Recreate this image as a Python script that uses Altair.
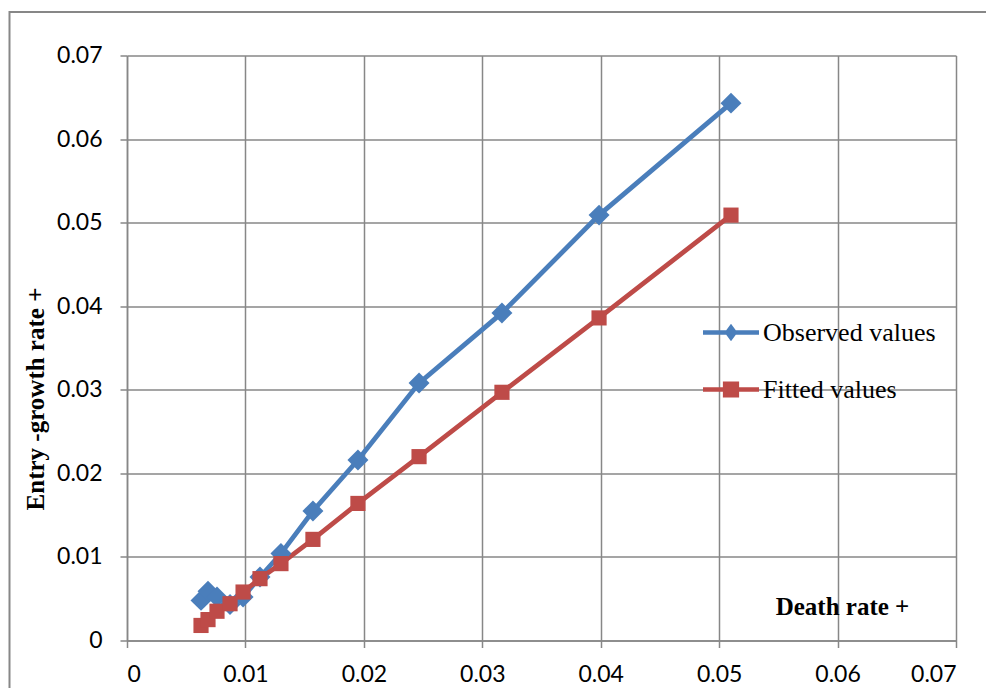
import altair as alt
import pandas as pd

# Shared x values (death rate) for both series
death_rate = [0.00625, 0.00684, 0.0076, 0.0087, 0.0098, 0.01123, 0.0130,
              0.0157, 0.0195, 0.02466, 0.03166, 0.03986, 0.0510]
observed = [0.0048, 0.0059, 0.0052, 0.0043, 0.0052, 0.0076, 0.0104,
            0.0155, 0.0216, 0.0308, 0.0392, 0.0509, 0.0643]
fitted = [0.0018, 0.0025, 0.0035, 0.0044, 0.0058, 0.0074, 0.0092,
          0.0121, 0.0164, 0.0220, 0.0297, 0.0386, 0.0509]

series_names = ["Observed values", "Fitted values"]
series_colors = ["#4A7EBB", "#BE4B48"]
tick_values = [0, 0.01, 0.02, 0.03, 0.04, 0.05, 0.06, 0.07]

rows = []
for name, vals in zip(series_names, [observed, fitted]):
    for xv, yv in zip(death_rate, vals):
        rows.append({"series": name, "death": xv, "entry": yv})
df = pd.DataFrame(rows)

W, H = 829, 585
GRID = "#878787"

# legend symbols: a line segment with the series marker on top
obs_symbol = "M-1,-0.08H1V0.08H-1Z M0,-0.31L0.23,0L0,0.31L-0.23,0Z"
fit_symbol = "M-1,-0.08H1V0.08H-1Z M-0.29,-0.29H0.29V0.29H-0.29Z"

x_enc = alt.X(
    "death:Q",
    scale=alt.Scale(domain=[0, 0.07], nice=False),
    axis=alt.Axis(values=tick_values, format=".2~f", title="Death rate +",
                  titleX=715, titleY=-26, titleAlign="center",
                  titleBaseline="alphabetic", titleAngle=0, labelPadding=16),
)
y_enc = alt.Y(
    "entry:Q",
    scale=alt.Scale(domain=[0, 0.07], nice=False),
    axis=alt.Axis(values=tick_values, format=".2~f",
                  title="Entry -growth rate +",
                  titleX=-84, titleY=343, titleAlign="center",
                  titleBaseline="alphabetic", titleAngle=-90, labelPadding=18),
)
color_scale = alt.Scale(domain=series_names, range=series_colors)
series_legend = alt.Legend(
    title=None, orient="none", legendX=576, legendY=249,
    symbolSize=3136, symbolStrokeWidth=0, symbolOpacity=1,
    labelOffset=4, rowPadding=16, padding=0, labelLimit=400,
    labelFont="Liberation Serif", labelFontSize=26, labelColor="black",
)
color_enc = alt.Color("series:N", scale=color_scale, legend=series_legend)
shape_enc = alt.Shape("series:N",
                      scale=alt.Scale(domain=series_names,
                                      range=[obs_symbol, fit_symbol]),
                      legend=series_legend)

frame = alt.Chart(pd.DataFrame({"frame": [0]})).mark_rect(
    fillOpacity=0, stroke=GRID, strokeWidth=2
).encode(
    x=alt.value(-117.5), x2=alt.value(W + 80),
    y=alt.value(-43.5), y2=alt.value(H + 80),
)

base = alt.Chart(df)

# legend only: nothing drawn, symbols come from the color and shape scales
legend_layer = base.transform_filter("false").mark_point(
    filled=True, opacity=1
).encode(x=x_enc, y=y_enc, color=color_enc, shape=shape_enc)

lines = base.mark_line(strokeWidth=4.8).encode(x=x_enc, y=y_enc, color=color_enc)

diamonds = base.transform_filter(
    alt.datum.series == "Observed values"
).mark_point(shape="diamond", filled=True, opacity=1, size=440).encode(
    x=x_enc, y=y_enc, color=color_enc)

squares = base.transform_filter(
    alt.datum.series == "Fitted values"
).mark_point(shape="square", filled=True, opacity=1, size=230).encode(
    x=x_enc, y=y_enc, color=color_enc)

chart = alt.layer(legend_layer, frame, lines, diamonds, squares).properties(
    width=W, height=H,
    autosize=alt.AutoSizeParams(type="none"),
    padding={"left": 127, "top": 55.5, "right": 30, "bottom": 47.5},
).configure_view(
    stroke=None
).configure_axis(
    grid=True, gridColor=GRID, gridWidth=1.5,
    domainColor=GRID, domainWidth=1.5,
    tickColor=GRID, tickWidth=1.5, tickSize=7,
    labelFont="Lato", labelFontSize=23, labelColor="black",
    titleFont="Liberation Serif", titleFontSize=25, titleFontWeight="bold",
    titleColor="black",
)

chart.save("out.html", embed_options={"renderer": "svg", "actions": False})
